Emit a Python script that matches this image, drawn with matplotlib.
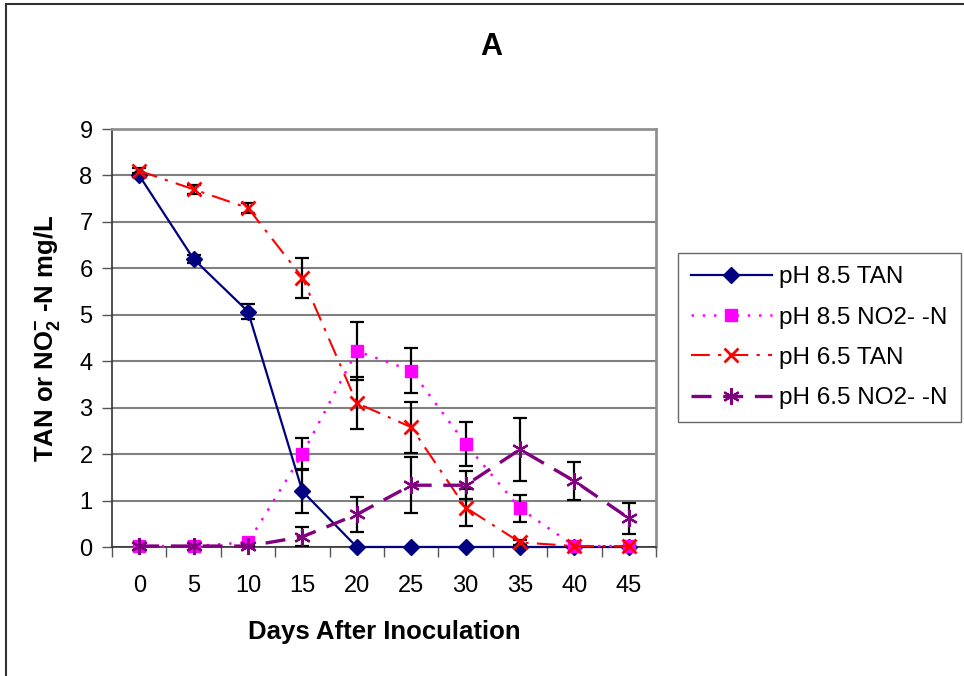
import matplotlib.pyplot as plt
from matplotlib.patches import Rectangle

plt.rcParams['font.family'] = ['Liberation Sans', 'DejaVu Sans']
plt.rcParams['mathtext.fontset'] = 'custom'
plt.rcParams['mathtext.rm'] = 'Liberation Sans'
plt.rcParams['mathtext.bf'] = 'Liberation Sans:bold'

# Data
days = [0, 5, 10, 15, 20, 25, 30, 35, 40, 45]

tan_85 = [8.0, 6.2, 5.07, 1.2, 0, 0, 0, 0, 0, 0]
tan_85_err = [0, 0.08, 0.17, 0.47, 0, 0, 0, 0, 0, 0]

no2_85 = [0.02, 0.02, 0.1, 2.0, 4.22, 3.8, 2.22, 0.83, 0.02, 0.02]
no2_85_err = [0, 0, 0, 0.35, 0.63, 0.49, 0.48, 0.3, 0, 0]

tan_65 = [8.1, 7.7, 7.3, 5.8, 3.1, 2.58, 0.85, 0.1, 0.02, 0.02]
tan_65_err = [0.05, 0.1, 0.1, 0.43, 0.55, 0.55, 0.4, 0.05, 0, 0]

no2_65 = [0.02, 0.02, 0.02, 0.22, 0.7, 1.33, 1.33, 2.1, 1.42, 0.62]
no2_65_err = [0, 0, 0.03, 0.2, 0.38, 0.6, 0.3, 0.68, 0.4, 0.33]

labels = ['pH 8.5 TAN', 'pH 8.5 NO2- -N', 'pH 6.5 TAN', 'pH 6.5 NO2- -N']

fig = plt.figure(figsize=(9.64, 6.76), dpi=100)
ax = fig.add_axes([112 / 964, 1 - 547 / 676, (656 - 112) / 964, (547 - 129) / 676])

x = list(range(len(days)))
err_kw = dict(fmt='none', ecolor='black', elinewidth=1.6, capsize=5, capthick=1.6)

series = [
    (tan_85, tan_85_err, dict(color='#000080', lw=1.6, ls='-', marker='D', ms=8)),
    (no2_85, no2_85_err, dict(color='#FF00FF', lw=1.8, ls=(0, (1, 3.5)), marker='s', ms=9)),
    (tan_65, tan_65_err, dict(color='#FF0000', lw=1.5, ls=(0, (9, 4, 1.5, 4)),
                              marker='x', ms=10, mew=2)),
    (no2_65, no2_65_err, dict(color='#800080', lw=2.4, ls=(0, (6, 3.5)),
                              marker=(6, 2, 0), ms=12, mew=1.6)),
]
z = 3
for (vals, errs, style), lab in zip(series, labels):
    # only points that carry an error bar
    idx = [i for i in x if errs[i] > 0]
    ax.errorbar([x[i] for i in idx], [vals[i] for i in idx],
                yerr=[errs[i] for i in idx], zorder=z, **err_kw)
    ax.plot(x, vals, label=lab, zorder=z + 1, clip_on=False, **style)
    z += 2

ax.set_xlim(-0.5, len(days) - 0.5)
ax.set_ylim(0, 9)
ax.set_yticks(range(10))
ax.set_xticks(x)
ax.set_xticklabels([str(d) for d in days])
ax.set_xticks([i - 0.5 for i in range(len(days) + 1)], minor=True)
ax.tick_params(axis='x', which='major', length=0, pad=20, labelsize=17)
ax.tick_params(axis='x', which='minor', length=7, width=1, color='#555555')
ax.tick_params(axis='y', length=7, width=1, color='#555555', labelsize=17, pad=7)

ax.grid(axis='y', color='#808080', lw=1.5)
ax.set_axisbelow(True)
for side in ['top', 'right']:
    ax.spines[side].set_color('#909090')
    ax.spines[side].set_linewidth(2)
for side in ['left', 'bottom']:
    ax.spines[side].set_color('#333333')
    ax.spines[side].set_linewidth(1.2)

ax.set_xlabel('Days After Inoculation', fontsize=18.5, fontweight='bold', labelpad=17)
ax.set_ylabel(r'TAN or NO$_\mathbf{2}^{\mathbf{-}}$ -N mg/L', fontsize=18.5,
              fontweight='bold', labelpad=12)
fig.text(491 / 964, 1 - 47 / 676, 'A', fontsize=22, fontweight='bold', ha='center', va='center')

leg = ax.legend(loc='upper left', bbox_to_anchor=(678 / 964, 1 - 253 / 676),
                bbox_transform=fig.transFigure, borderaxespad=0, fontsize=17.5,
                frameon=True, fancybox=False, edgecolor='#444444', handlelength=3.3,
                borderpad=0.55, labelspacing=0.75, handletextpad=0.3)
leg.get_frame().set_linewidth(1)

fig.patches.append(Rectangle((6 / 964, -0.01), 1.0, 1 - 4 / 676 + 0.01, transform=fig.transFigure,
                             fill=False, edgecolor='#333333', lw=1.5))

fig.savefig('out.png', dpi=100)
